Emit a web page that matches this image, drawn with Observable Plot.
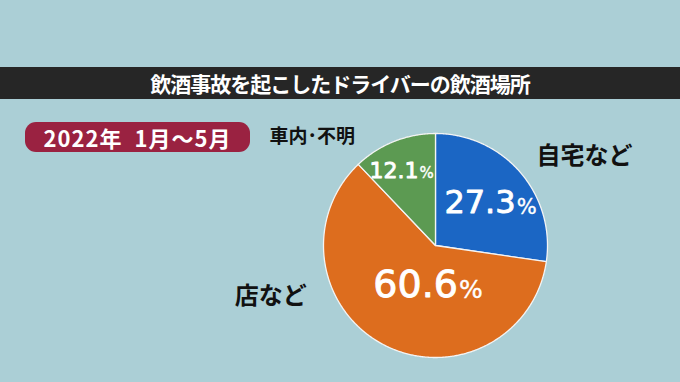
<!DOCTYPE html>
<html><head><meta charset="utf-8">
<script src="https://cdn.jsdelivr.net/npm/d3@7"></script>
<script src="https://cdn.jsdelivr.net/npm/@observablehq/plot@0.6"></script>
<style>
html,body{margin:0;padding:0;background:#abcfd6;}
#wrap{position:relative;width:680px;height:382px;overflow:hidden;background:#abcfd6;font-family:"Noto Sans CJK JP",sans-serif;}
#titlebar{position:absolute;left:0;top:67px;width:680px;height:32px;background:#262626;color:#fff;font-size:21px;font-weight:bold;line-height:32px;text-align:center;letter-spacing:-1px;}
#badge{position:absolute;left:25px;top:122px;width:225px;height:30px;background:#9a2241;border-radius:11px;color:#fff;font-size:22px;font-weight:bold;line-height:30px;text-align:center;letter-spacing:1px;}
#chart{position:absolute;left:0;top:0;}
</style></head>
<body><div id="wrap">
<div id="chart"></div>
<div id="titlebar"></div>
<div id="badge"></div>
</div>
<script>
const title = "飲酒事故を起こしたドライバーの飲酒場所";
const period = "2022年\u00a0 1月〜5月";
const categories = ["自宅など", "店など", "車内･不明"];
const values = [27.3, 60.6, 12.1];
const valueLabels = ["27.3", "60.6", "12.1"];
const colors = ["#1b66c4", "#dd6d1e", "#5c9a52"];

document.getElementById("titlebar").textContent = title;
document.getElementById("badge").textContent = period;

// layout (styling, not data)
const labelR = [0.58, 0.40, 0.72];
const splitDx = [31, 43, 13];
const numSize = [32, 38, 22];
const pctSize = [21, 25, 15];
const catPos = [[1.33, 0.80], [-1.47, -0.45], [-1.10, 0.97]];
const catSize = [24, 24, 19];

const arcs = d3.pie().sort(null).startAngle(0).endAngle(2 * Math.PI)(values);
const polys = [];
arcs.forEach((a, i) => {
  polys.push({cat: categories[i], x: 0, y: 0});
  const n = Math.max(2, Math.ceil((a.endAngle - a.startAngle) / (Math.PI / 360)));
  for (let k = 0; k <= n; k++) {
    const t = a.startAngle + (a.endAngle - a.startAngle) * k / n;
    polys.push({cat: categories[i], x: Math.sin(t), y: Math.cos(t)});
  }
  polys.push({cat: categories[i], x: 0, y: 0});
});
const labels = arcs.map((a, i) => {
  const m = (a.startAngle + a.endAngle) / 2;
  return {i, cat: categories[i], num: valueLabels[i], x: labelR[i] * Math.sin(m), y: labelR[i] * Math.cos(m),
          cx: catPos[i][0], cy: catPos[i][1]};
});

const marks = [
  Plot.line(polys, {x: "x", y: "y", z: "cat", fill: "cat", stroke: "#f4f4f4", strokeWidth: 1.3, curve: "linear"})
];
labels.forEach((d, i) => {
  marks.push(Plot.text([d], {x: "x", y: "y", text: "num", textAnchor: "end", dx: splitDx[i], fontSize: numSize[i],
    fill: "white", stroke: "white", strokeWidth: 0.9, fontFamily: "DejaVu Sans", lineAnchor: "middle"}));
  marks.push(Plot.text([d], {x: "x", y: "y", text: () => "%", textAnchor: "start", dx: splitDx[i] + 1, dy: (numSize[i] - pctSize[i]) * 0.36,
    fontSize: pctSize[i], fill: "white", stroke: "white", strokeWidth: 0.4, fontFamily: "DejaVu Sans", lineAnchor: "middle"}));
  marks.push(Plot.text([d], {x: "cx", y: "cy", text: "cat", fontSize: catSize[i], fontWeight: "bold",
    fill: "#111", fontFamily: "Noto Sans CJK JP", lineAnchor: "middle"}));
});

const chart = Plot.plot({
  width: 680, height: 382, margin: 0,
  style: {background: "transparent"},
  x: {domain: [-1, 1], range: [323, 547], axis: null},
  y: {domain: [-1, 1], range: [357, 133], axis: null},
  color: {domain: categories, range: colors},
  marks
});
document.getElementById("chart").appendChild(chart);
</script>
</body></html>
